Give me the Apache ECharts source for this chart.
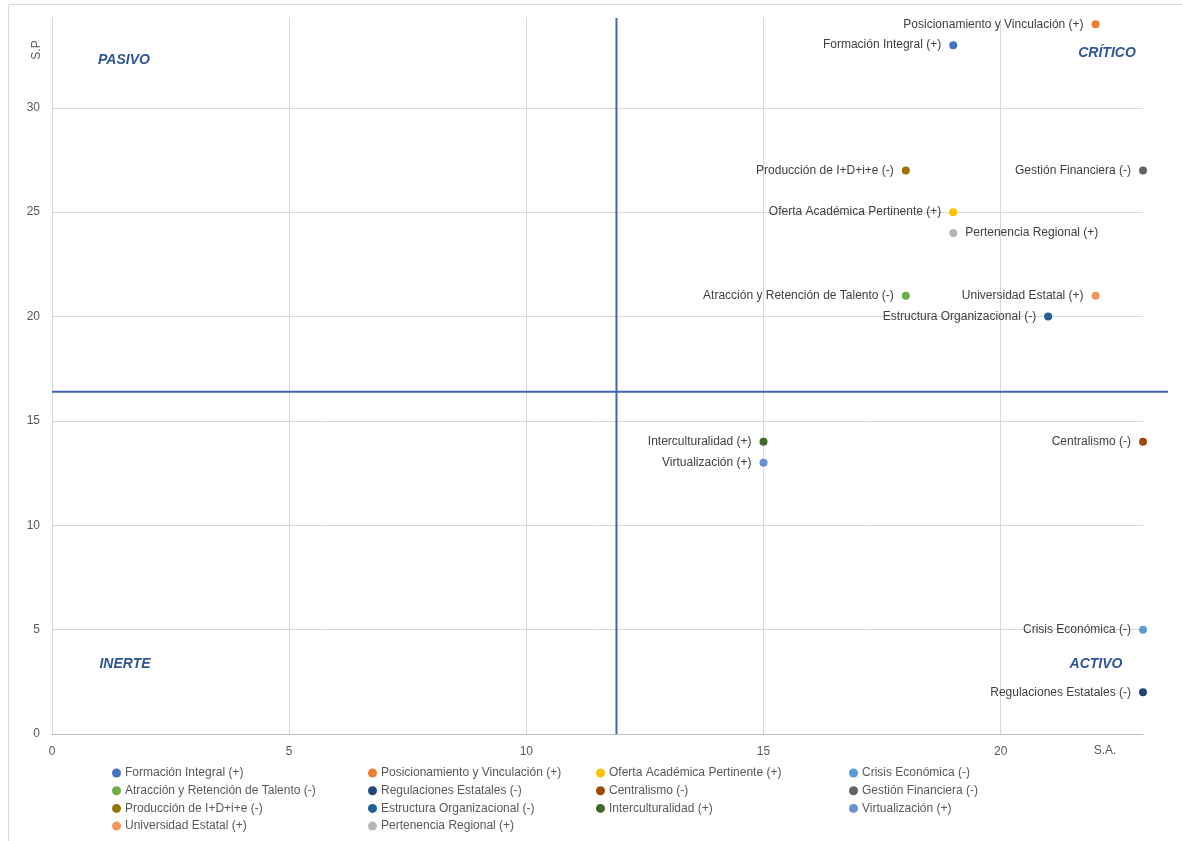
<!DOCTYPE html>
<html>
<head>
<meta charset="utf-8">
<script src="https://cdn.jsdelivr.net/npm/echarts@6/dist/echarts.min.js"></script>
<style>html,body{margin:0;padding:0;background:#fff}#c{width:1182px;height:841px}</style>
</head>
<body>
<div id="c"></div>
<script>
const names = [
  'Formación Integral (+)', 'Posicionamiento y Vinculación (+)', 'Oferta Académica Pertinente (+)', 'Crisis Económica (-)',
  'Atracción y Retención de Talento (-)', 'Regulaciones Estatales (-)', 'Centralismo (-)', 'Gestión Financiera (-)',
  'Producción de I+D+i+e (-)', 'Estructura Organizacional (-)', 'Interculturalidad (+)', 'Virtualización (+)',
  'Universidad Estatal (+)', 'Pertenencia Regional (+)'
];
const saValues = [19, 22, 19, 23, 18, 23, 23, 23, 18, 21, 15, 15, 22, 19];
const spValues = [33, 34, 25, 5, 21, 2, 14, 27, 27, 20, 14, 13, 21, 24];
const colors = ['#4472C4', '#ED7D31', '#FFC000', '#5B9BD5', '#70AD47', '#264478', '#9E480E', '#636363',
  '#997300', '#255E91', '#43682B', '#698ED0', '#F1975A', '#B7B7B7'];
const xTicks = [0, 5, 10, 15, 20];
const yTicks = [0, 5, 10, 15, 20, 25, 30];
const meanSA = 11.9;
const meanSP = 16.4;
const quadrantNames = ['PASIVO', 'CRÍTICO', 'INERTE', 'ACTIVO'];
const rightLabeled = ['Pertenencia Regional (+)'];

const FONT = "'Liberation Sans', Arial, sans-serif";
const chart = echarts.init(document.getElementById('c'));

const series = names.map((n, i) => ({
  type: 'scatter',
  name: n,
  data: [[saValues[i], spValues[i]]],
  symbolSize: 8,
  itemStyle: { color: colors[i], opacity: 1 },
  label: {
    show: true,
    formatter: n,
    position: rightLabeled.includes(n) ? 'right' : 'left',
    distance: 8,
    color: '#404040',
    fontSize: 12,
    fontFamily: FONT
  },
  emphasis: { disabled: true },
  z: 5
}));
// horizontal reference line: drawn on an overlay grid that reaches past the plot's right edge
series.push({
  type: 'line', xAxisIndex: 1, yAxisIndex: 1, data: [[0, meanSP], [1, meanSP]], showSymbol: false, silent: true,
  lineStyle: { color: '#4066B0', width: 2 }, z: 3
});
series.push({
  type: 'line', data: [[meanSA, 0], [meanSA, 34.3]], showSymbol: false, silent: true,
  lineStyle: { color: '#4066B0', width: 2 }, z: 3
});

const cols = [[0, 4, 8, 12], [1, 5, 9, 13], [2, 6, 10], [3, 7, 11]];
const colLeft = [112, 368, 596, 849];
const legends = cols.map((c, k) => ({
  orient: 'vertical',
  left: colLeft[k],
  top: 766,
  padding: 0,
  itemWidth: 9,
  itemHeight: 9,
  itemGap: 3.7,
  icon: 'circle',
  data: c.map(i => names[i]),
  textStyle: { color: '#595959', fontSize: 12, fontFamily: FONT, padding: [0, 0, 0, -1], lineHeight: 14 },
  selectedMode: false
}));

const qStyle = { fill: '#2F5597', fontSize: 14, fontWeight: 'bold', fontStyle: 'italic', fontFamily: FONT, textAlign: 'center', textVerticalAlign: 'middle' };
const qPos = [[124, 60], [1107, 53], [125, 664], [1096, 664]];

chart.setOption({
  animation: false,
  grid: [
    { left: 52, right: 39, top: 18, bottom: 107 },
    { left: 52, right: 14, top: 18, bottom: 107 }
  ],
  xAxis: [{
    type: 'value', min: 0, max: 23, interval: 5,
    axisLine: { show: true, lineStyle: { color: '#bfbfbf' } },
    axisTick: { show: false },
    axisLabel: { color: '#595959', fontSize: 12, fontFamily: FONT, margin: 12, showMaxLabel: false,
      formatter: v => xTicks.includes(v) ? String(v) : '' },
    splitLine: { show: true, showMaxLine: false, lineStyle: { color: '#d9d9d9' } }
  }, {
    type: 'value', gridIndex: 1, min: 0, max: 1, show: false
  }],
  yAxis: [{
    type: 'value', min: 0, max: 34.3, interval: 5,
    axisLine: { show: true, lineStyle: { color: '#d9d9d9' } },
    axisTick: { show: false },
    axisLabel: { color: '#595959', fontSize: 12, fontFamily: FONT, margin: 12, showMaxLabel: false,
      formatter: v => yTicks.includes(v) ? String(v) : '' },
    splitLine: { show: true, showMaxLine: false, lineStyle: { color: '#d9d9d9' } }
  }, {
    type: 'value', gridIndex: 1, min: 0, max: 34.3, show: false
  }],
  legend: legends,
  series: series,
  graphic: [
    { type: 'rect', shape: { x: 8.5, y: 4.5, width: 1300, height: 1000 }, style: { fill: 'none', stroke: '#d9d9d9', lineWidth: 1 }, silent: true, z: -10 },
    { type: 'text', x: 1105, y: 751, style: { text: 'S.A.', fill: '#595959', fontSize: 12, fontFamily: FONT, textAlign: 'center', textVerticalAlign: 'middle' } },
    { type: 'text', x: 37, y: 50, rotation: Math.PI / 2, style: { text: 'S.P', fill: '#595959', fontSize: 12, fontFamily: FONT, textAlign: 'center', textVerticalAlign: 'middle' } }
  ].concat(quadrantNames.map((q, i) => ({ type: 'text', x: qPos[i][0], y: qPos[i][1], style: Object.assign({ text: q }, qStyle) })))
});
</script>
</body>
</html>
